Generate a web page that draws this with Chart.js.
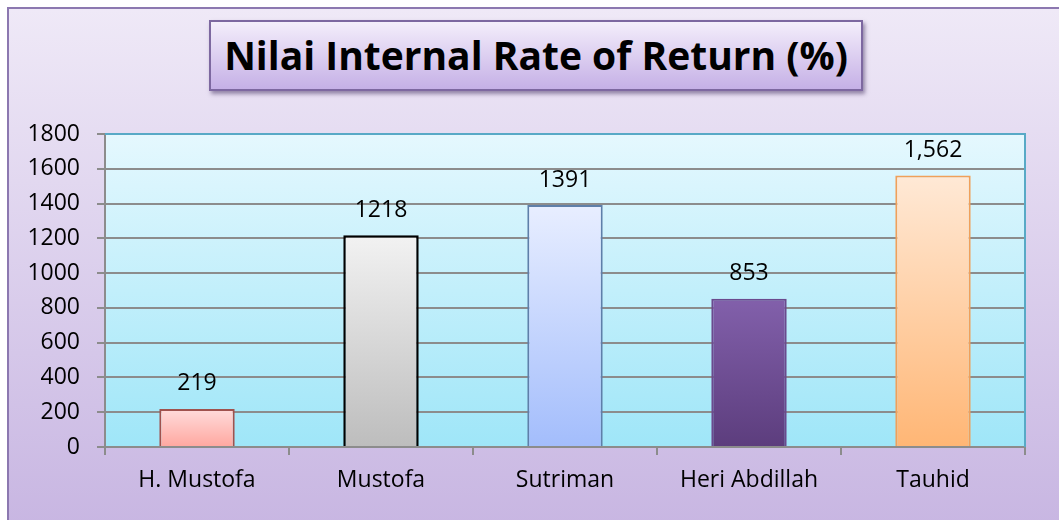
<!DOCTYPE html>
<html>
<head>
<meta charset="utf-8">
<script src="https://cdn.jsdelivr.net/npm/chart.js@4.4.0/dist/chart.umd.min.js"></script>
<style>
    html, body { margin: 0; padding: 0; background: #fff; }
    #wrap { position: relative; width: 1059px; height: 520px; overflow: hidden; }
    #frame {
        position: absolute; left: 7px; top: 7px; width: 1060px; height: 520px;
        border: 2px solid #8c78b0; box-sizing: border-box;
        background: linear-gradient(#efe9f7, #c8b6e2);
    }
    #title {
        position: absolute; left: 209px; top: 20px; width: 654px; height: 71px;
        border: 2px solid #7d68a0; box-sizing: border-box;
        background: linear-gradient(#f4eefb, #c5b0e6);
        box-shadow: 2px 3px 4px rgba(60, 40, 90, 0.5);
        font: bold 39px 'Open Sans'; color: #000;
        text-align: center; line-height: 66px; white-space: nowrap;
    }
    canvas { position: absolute; left: 0; top: 0; }
</style>
</head>
<body>
<div id="wrap">
    <div id="frame"></div>
    <div id="title">Nilai Internal Rate of Return (%)</div>
    <canvas id="irr-chart" width="1059" height="520"></canvas>
</div>
<script>
const categories = ["H. Mustofa", "Mustofa", "Sutriman", "Heri Abdillah", "Tauhid"];
const irrValues = [219, 1218, 1391, 853, 1562];
const valueLabels = ["219", "1218", "1391", "853", "1,562"];
const yTicks = [0, 200, 400, 600, 800, 1000, 1200, 1400, 1600, 1800];

// top colour, bottom colour, border colour for each bar
const barColors = [
    ["#ffdcdc", "#ffa79f", "#a0524e"],
    ["#f2f2f2", "#bdbdbd", "#000000"],
    ["#e8eeff", "#a3bdfc", "#5f7fa9"],
    ["#8260ab", "#5c3d7d", "#6a4a8e"],
    ["#ffe9d6", "#ffb675", "#f0a05a"]
];

const FONT = "'Open Sans'";

const barFill = (ctx) => {
    const chart = ctx.chart;
    const area = chart.chartArea;
    if (!area || ctx.dataIndex === undefined) return barColors[0][0];
    const c = barColors[ctx.dataIndex];
    const top = chart.scales.y.getPixelForValue(irrValues[ctx.dataIndex]);
    const g = chart.ctx.createLinearGradient(0, top, 0, area.bottom);
    g.addColorStop(0, c[0]);
    g.addColorStop(1, c[1]);
    return g;
};

const plotBackground = {
    id: 'plotBackground',
    beforeDraw(chart) {
        const { ctx, chartArea: a } = chart;
        const g = ctx.createLinearGradient(0, a.top, 0, a.bottom);
        g.addColorStop(0, '#e5f8fe');
        g.addColorStop(1, '#9fe6f8');
        ctx.save();
        ctx.fillStyle = g;
        ctx.fillRect(a.left, a.top, a.right - a.left, a.bottom - a.top);
        ctx.restore();
    },
    beforeDatasetsDraw(chart) {
        const { ctx, chartArea: a } = chart;
        ctx.save();
        ctx.strokeStyle = '#58a9c6';
        ctx.lineWidth = 2;
        ctx.beginPath();
        ctx.moveTo(a.left, a.top);
        ctx.lineTo(a.right, a.top);
        ctx.lineTo(a.right, a.bottom);
        ctx.stroke();
        ctx.restore();
    }
};

const barValueLabels = {
    id: 'barValueLabels',
    afterDatasetsDraw(chart) {
        const { ctx } = chart;
        const meta = chart.getDatasetMeta(0);
        ctx.save();
        ctx.font = "23px " + FONT;
        ctx.fillStyle = '#000';
        ctx.textAlign = 'center';
        ctx.textBaseline = 'middle';
        meta.data.forEach((bar, i) => {
            ctx.fillText(valueLabels[i], bar.x, bar.y - 25);
        });
        ctx.restore();
    }
};

new Chart(document.getElementById('irr-chart'), {
    type: 'bar',
    data: {
        labels: categories,
        datasets: [{
            label: 'IRR',
            data: irrValues,
            backgroundColor: barFill,
            borderColor: barColors.map(c => c[2]),
            borderWidth: [2, 2.5, 2, 2, 2],
            barPercentage: 0.82,
            categoryPercentage: 0.5
        }]
    },
    options: {
        responsive: false,
        animation: false,
        layout: { padding: { left: 10, right: 34, top: 134, bottom: 0 } },
        plugins: {
            legend: { display: false },
            tooltip: { enabled: false }
        },
        scales: {
            x: {
                afterFit: (s) => { s.height = 73; },
                grid: { display: true, drawOnChartArea: false, tickLength: 8, color: '#8c8c8c', lineWidth: 2 },
                border: { display: true, color: '#8c8c8c', width: 2 },
                ticks: { color: '#000', font: { family: FONT, size: 23 }, padding: 12 }
            },
            y: {
                min: 0,
                max: 1800,
                afterFit: (s) => { s.width = 95; },
                afterBuildTicks: (s) => { s.ticks = yTicks.map(v => ({ value: v })); },
                grid: { color: '#8c8c8c', lineWidth: 2, tickLength: 8 },
                border: { display: true, color: '#8c8c8c', width: 2 },
                ticks: {
                    color: '#000', font: { family: FONT, size: 23 }, padding: 17,
                    callback: (v) => String(v)
                }
            }
        }
    },
    plugins: [plotBackground, barValueLabels]
});
</script>
</body>
</html>
